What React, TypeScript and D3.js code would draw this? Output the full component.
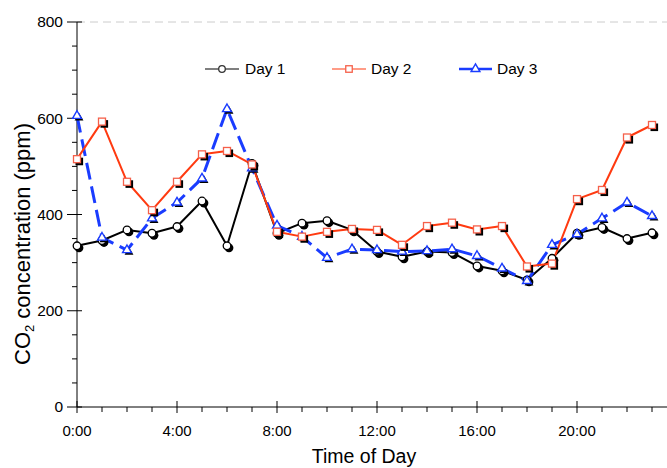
import React from 'react';
import * as d3 from 'd3';

const hours = [0, 1, 2, 3, 4, 5, 6, 7, 8, 9, 10, 11, 12, 13, 14, 15, 16, 17, 18, 19, 20, 21, 22, 23];
const day1 = [335, 346, 368, 361, 375, 428, 335, 506, 361, 382, 387, 368, 323, 312, 323, 321, 293, 283, 264, 309, 361, 373, 350, 362];
const day2 = [515, 593, 468, 409, 468, 525, 532, 504, 364, 354, 364, 370, 368, 337, 376, 383, 369, 376, 292, 298, 432, 451, 560, 586];
const day3 = [605, 352, 326, 392, 425, 475, 619, 496, 377, 354, 310, 328, 326, 323, 324, 328, 314, 288, 262, 337, 359, 392, 425, 397];
const xTickHours = [0, 4, 8, 12, 16, 20];
const xTickLabels = ['0:00', '4:00', '8:00', '12:00', '16:00', '20:00'];
const yTicks = [0, 200, 400, 600, 800];
const seriesNames = ['Day 1', 'Day 2', 'Day 3'];

const W = 667;
const H = 468;
const FONT = 'Arial, "Liberation Sans", sans-serif';

const x = d3.scaleLinear().domain([0, 24]).range([77, 677]);
const y = d3.scaleLinear().domain([0, 800]).range([407, 22]);

const RED = '#ff3a10';
const RED_M = '#f5604a';
const BLUE = '#1a3cff';

const triPath = d3.symbol(d3.symbolTriangle, 34)() as string;

function Marker({ kind, cx, cy, shadow = true, legend = false }: { kind: string; cx: number; cy: number; shadow?: boolean; legend?: boolean }) {
  const off = 2;
  if (kind === 'circle') {
    const r = legend ? 3.3 : 3.8;
    return (
      <g>
        {shadow && <circle cx={cx + off} cy={cy + off} r={r + 0.6} fill="#000" />}
        <circle cx={cx} cy={cy} r={r} fill="#fff" stroke={legend ? '#333' : '#000'} strokeWidth={1.3} />
      </g>
    );
  }
  if (kind === 'square') {
    const s = legend ? 6.5 : 7;
    return (
      <g>
        {shadow && <rect x={cx - s / 2 + off} y={cy - s / 2 + off} width={s + 0.6} height={s + 0.6} fill="#000" />}
        <rect x={cx - s / 2} y={cy - s / 2} width={s} height={s} fill="#fff" stroke={RED_M} strokeWidth={1.3} />
      </g>
    );
  }
  return (
    <g>
      {shadow && <path d={triPath} transform={`translate(${cx + off},${cy + off})`} fill="#000" />}
      <path d={triPath} transform={`translate(${cx},${cy})`} fill="#fff" stroke={BLUE} strokeWidth={1.4} />
    </g>
  );
}

export default function App() {
  const line = d3
    .line<number>()
    .x((_, i) => x(hours[i]))
    .y((d) => y(d));

  const yMinor = d3.range(0, 801, 50).filter((v) => v % 200 !== 0);
  const xMinor = d3.range(0, 24, 1).filter((h) => h % 4 !== 0);

  const series = [
    { name: seriesNames[0], data: day1, color: '#000', width: 2, dash: undefined as string | undefined, kind: 'circle' },
    { name: seriesNames[1], data: day2, color: RED, width: 2, dash: undefined, kind: 'square' },
    { name: seriesNames[2], data: day3, color: BLUE, width: 3, dash: '17,7', kind: 'triangle' },
  ];
  const drawOrder = [0, 2, 1];

  const legendItems = [
    { x0: 205, x1: 239, tx: 245 },
    { x0: 332, x1: 366, tx: 371 },
    { x0: 459, x1: 492, tx: 497 },
  ];
  const legendY = 69;

  return (
    <svg width={W} height={H} style={{ position: 'absolute', left: 0, top: 0, background: '#fff' }} fontFamily={FONT}>
      <rect width={W} height={H} fill="#fff" />
      {/* top dashed grid line */}
      <line x1={x(0)} x2={W} y1={y(800)} y2={y(800)} stroke="#cccccc" strokeWidth={1} strokeDasharray="8,5" />

      {/* axes */}
      <line x1={x(0)} x2={x(0)} y1={y(800)} y2={y(0)} stroke="#000" strokeWidth={1} />
      <line x1={x(0)} x2={W} y1={y(0)} y2={y(0)} stroke="#000" strokeWidth={1} />

      {yTicks.map((v) => (
        <g key={'yt' + v}>
          <line x1={x(0) - 10} x2={x(0) + 5} y1={y(v)} y2={y(v)} stroke="#000" />
          <text x={63} y={y(v)} dy="0.35em" textAnchor="end" fontSize={15.5} fill="#000">
            {v}
          </text>
        </g>
      ))}
      {yMinor.map((v) => (
        <line key={'ym' + v} x1={x(0) - 5} x2={x(0)} y1={y(v)} y2={y(v)} stroke="#000" />
      ))}
      {xTickHours.map((h, i) => (
        <g key={'xt' + h}>
          <line x1={x(h)} x2={x(h)} y1={y(0) - 6} y2={y(0) + 6} stroke="#000" />
          <text x={x(h)} y={436} textAnchor="middle" fontSize={15} fill="#000">
            {xTickLabels[i]}
          </text>
        </g>
      ))}
      {xMinor.map((h) => (
        <line key={'xm' + h} x1={x(h)} x2={x(h)} y1={y(0)} y2={y(0) + 5} stroke="#000" />
      ))}

      {/* axis titles */}
      <text x={364} y={463} textAnchor="middle" fontSize={19.5} fill="#000">
        Time of Day
      </text>
      <text transform="translate(29.5,244) rotate(-90)" textAnchor="middle" fontSize={22} fill="#000">
        CO<tspan fontSize={13} dy={4}>2</tspan>
        <tspan dy={-4}> concentration (ppm)</tspan>
      </text>

      {/* lines */}
      {drawOrder.map((si) => {
        const s = series[si];
        return (
          <path
            key={'l' + si}
            d={line(s.data) as string}
            fill="none"
            stroke={s.color}
            strokeWidth={s.width}
            strokeDasharray={s.dash}
            strokeLinejoin="round"
          />
        );
      })}
      {/* markers */}
      {drawOrder.map((si) => {
        const s = series[si];
        return (
          <g key={'m' + si}>
            {s.data.map((v, i) => (
              <Marker key={i} kind={s.kind} cx={x(hours[i])} cy={y(v)} />
            ))}
          </g>
        );
      })}

      {/* legend */}
      {series.map((s, i) => {
        const it = legendItems[i];
        return (
          <g key={'lg' + i}>
            <line x1={it.x0} x2={it.x1} y1={legendY} y2={legendY} stroke={s.color} strokeWidth={i === 2 ? 2.5 : 1.2} />
            <Marker kind={s.kind} cx={(it.x0 + it.x1) / 2} cy={legendY} shadow={false} legend />
            <text x={it.tx} y={legendY} dy="0.35em" fontSize={15.5} fill="#000">
              {s.name}
            </text>
          </g>
        );
      })}
    </svg>
  );
}
